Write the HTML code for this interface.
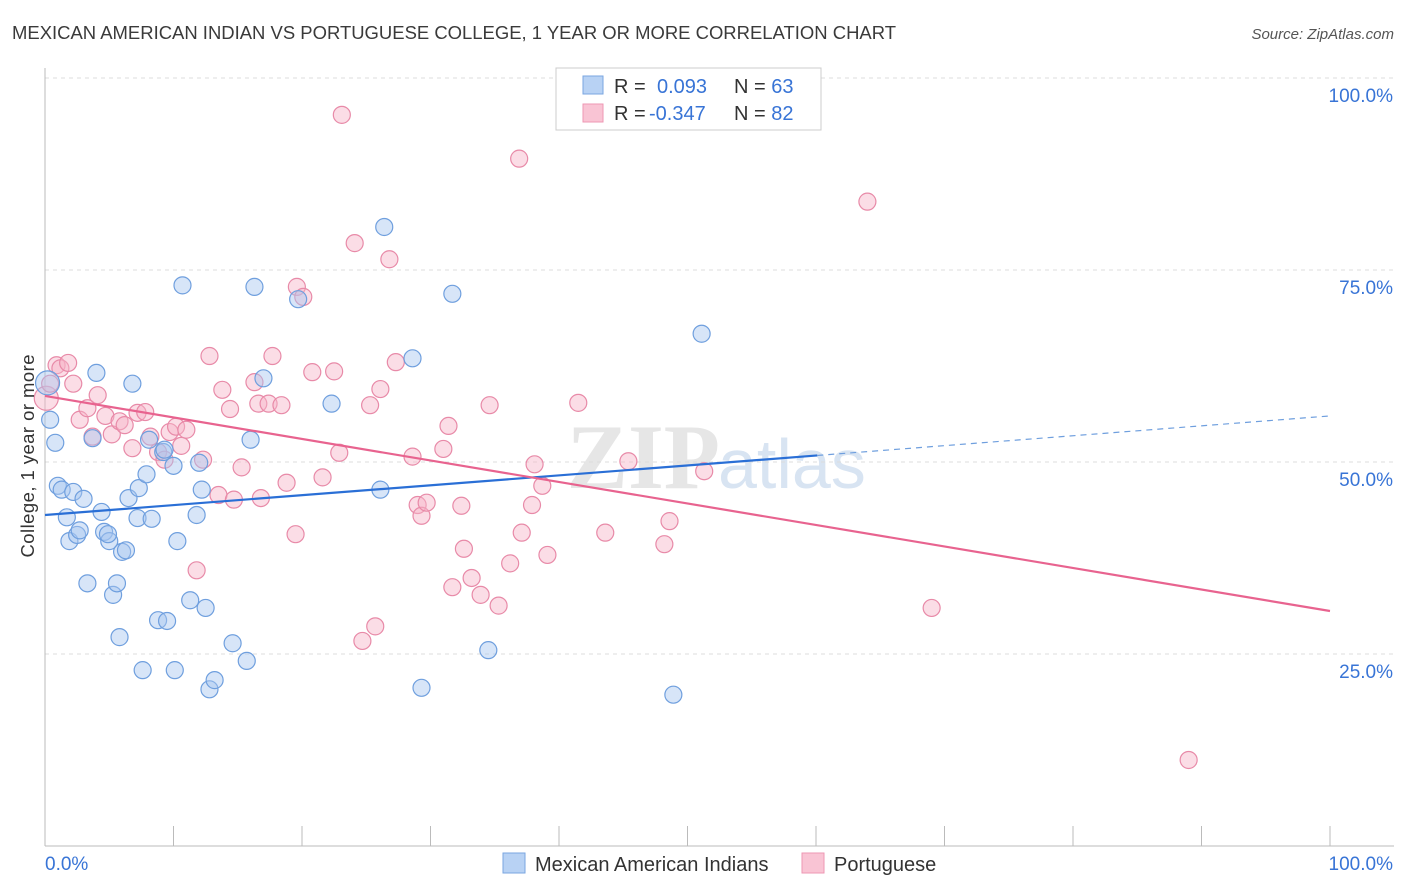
<!DOCTYPE html>
<html><head><meta charset="utf-8"><style>
body{margin:0;background:#fff;font-family:"Liberation Sans",sans-serif}
svg{display:block}
</style></head><body>
<svg id="c" width="1406" height="892" xmlns="http://www.w3.org/2000/svg">
<text x="12" y="39" font-size="18" fill="#3a3a3a" textLength="884" lengthAdjust="spacingAndGlyphs">MEXICAN AMERICAN INDIAN VS PORTUGUESE COLLEGE, 1 YEAR OR MORE CORRELATION CHART</text>
<text x="1394" y="39" font-size="15" fill="#555" font-style="italic" text-anchor="end">Source: ZipAtlas.com</text>
<text x="720" y="488" font-size="92" fill="#e6e6e6" font-weight="bold" text-anchor="end" font-family="Liberation Serif,serif">ZIP</text>
<text x="718" y="488" font-size="70" fill="#d8e4f2">atlas</text>
<g id="grid"></g>
<g id="marks"></g>
<text transform="translate(34,456) rotate(-90)" font-size="18.5" fill="#333" text-anchor="middle" textLength="203">College, 1 year or more</text>
<g>
<rect x="556" y="68" width="265" height="62" fill="#fff" stroke="#ccc"/>
<rect x="583" y="76" width="20" height="18" fill="#b8d2f4" stroke="#7aa6e0"/>
<rect x="583" y="104" width="20" height="18" fill="#f9c4d4" stroke="#ee97b3"/>
<text x="614" y="93" font-size="20" fill="#333">R = <tspan fill="#3874d6" x="657">0.093</tspan><tspan x="734" fill="#333">N = </tspan><tspan fill="#3874d6">63</tspan></text>
<text x="614" y="120" font-size="20" fill="#333">R = <tspan fill="#3874d6" x="649">-0.347</tspan><tspan x="734" fill="#333">N = </tspan><tspan fill="#3874d6">82</tspan></text>
</g>
<g>
<rect x="503" y="853" width="22" height="20" fill="#b8d2f4" stroke="#7aa6e0"/>
<text x="535" y="871" font-size="20" fill="#333">Mexican American Indians</text>
<rect x="802" y="853" width="22" height="20" fill="#f9c4d4" stroke="#ee97b3"/>
<text x="834" y="871" font-size="20" fill="#333">Portuguese</text>
</g>
</svg>
<script>
const blueX=[0.2,0.4,0.8,1.0,1.3,1.7,1.9,2.2,2.5,2.7,3.0,3.3,3.7,4.0,4.4,4.6,5.0,4.9,5.3,5.6,5.8,6.0,6.3,6.5,6.8,7.2,7.3,7.6,7.9,8.1,8.3,8.8,9.2,9.3,9.5,10.0,10.1,10.3,10.7,11.3,11.8,12.0,12.2,12.5,12.8,13.2,14.6,15.7,16.0,16.3,17.0,19.7,22.3,26.1,26.4,28.6,29.3,31.7,34.5,48.9,51.1];
const blueY=[60.3,55.5,52.5,46.9,46.4,42.8,39.7,46.1,40.5,41.1,45.2,34.2,53.1,61.6,43.5,40.9,39.7,40.6,32.7,34.2,27.2,38.3,38.5,45.3,60.2,42.7,46.6,22.9,48.4,52.9,42.6,29.4,51.3,51.6,29.3,49.5,22.9,39.7,73.0,32.0,43.1,49.9,46.4,31.0,20.4,21.6,26.4,24.1,52.9,72.8,60.9,71.2,57.6,46.4,80.6,63.5,20.6,71.9,25.5,19.7,66.7];
const pinkX=[0.1,0.4,0.9,1.2,1.8,2.2,2.7,3.3,3.7,4.1,4.7,5.2,5.8,6.2,6.8,7.2,7.8,8.2,8.8,9.3,9.7,10.2,10.6,11.0,11.8,12.3,12.8,13.5,13.8,14.4,14.7,15.3,16.3,16.6,16.8,17.4,17.7,18.4,18.8,19.5,19.6,20.1,20.8,21.6,22.5,22.9,23.1,24.1,24.7,25.3,25.7,26.1,26.8,27.3,28.6,29.0,29.3,29.7,31.0,31.4,31.7,32.4,32.6,33.2,33.9,34.6,35.3,36.2,36.9,37.1,37.9,38.1,38.7,39.1,41.5,43.6,45.4,48.2,48.6,51.3,64.0,69.0,89.0];
const pinkY=[58.3,60.2,62.6,62.2,62.9,60.2,55.5,57.0,53.3,58.7,56.0,53.6,55.3,54.8,51.8,56.4,56.5,53.3,51.3,50.3,53.9,54.6,52.1,54.2,35.9,50.3,63.8,45.7,59.4,56.9,45.1,49.3,60.4,57.6,45.3,57.6,63.8,57.4,47.3,40.6,72.8,71.5,61.7,48.0,61.8,51.2,95.2,78.5,26.7,57.4,28.6,59.5,76.4,63.0,50.7,44.4,43.0,44.7,51.7,54.7,33.7,44.3,38.7,34.9,32.7,57.4,31.3,36.8,89.5,40.8,44.4,49.7,46.9,37.9,57.7,40.8,50.1,39.3,42.3,48.8,83.9,31.0,11.2];
const blueTrend=[43.1,56.0]; const blueSolidEnd=60.1;
const pinkTrend=[58.6,30.6];
const yTicks=[25,50,75,100];
const yTickLabels=["25.0%","50.0%","75.0%","100.0%"];
const NS="http://www.w3.org/2000/svg";
const X=v=>45+v*12.85, Y=v=>846-v*7.68;
function mk(t,a,p){const e=document.createElementNS(NS,t);for(const k in a)e.setAttribute(k,a[k]);p.appendChild(e);return e;}
const grid=document.getElementById('grid'), marks=document.getElementById('marks');
yTicks.forEach((t,i)=>{
 const l=mk('line',{x1:45,x2:1394,y1:Y(t),y2:Y(t),stroke:'#dcdcdc','stroke-dasharray':'4,4'},grid);
 
 
 const tx=mk('text',{x:1393,y:Y(t)+24,'font-size':19,fill:'#3874d6','text-anchor':'end'},grid);
 tx.textContent=yTickLabels[i];
 
 
});
const ax=mk('line',{x1:45,x2:45,y1:68,y2:846,stroke:'#bbb'},grid);


const bx=mk('line',{x1:45,x2:1394,y1:846,y2:846,stroke:'#bbb'},grid);


for(let i=0;i<=10;i++){const t=mk('line',{x1:X(i*10),x2:X(i*10),y1:826,y2:846,stroke:'#bbb'},grid);
 
 }
[["0.0%",45,'start'],["100.0%",1393,'end']].forEach(d=>{const t=mk('text',{x:d[1],y:870,'font-size':19,fill:'#3874d6','text-anchor':d[2]},grid);t.textContent=d[0];
 
 });
function pts(xs,ys,fill,stroke,name){xs.forEach((x,i)=>{const c=mk('circle',{cx:X(x),cy:Y(ys[i]),r:i==0?12:8.5,fill:fill,'fill-opacity':0.45,stroke:stroke,'stroke-width':1.2},marks);
 
 });}
pts(pinkX,pinkY,'#f7b3c8','#e88aa8','portuguese-point');
pts(blueX,blueY,'#a6c6ef','#6f9fde','mexican-point');
const bl=mk('line',{x1:X(0),y1:Y(blueTrend[0]),x2:X(blueSolidEnd),y2:Y(blueTrend[0]+(blueTrend[1]-blueTrend[0])*blueSolidEnd/100),stroke:'#2a6fd6','stroke-width':2.2},marks);


const bd=mk('line',{x1:X(blueSolidEnd),y1:Y(blueTrend[0]+(blueTrend[1]-blueTrend[0])*blueSolidEnd/100),x2:X(100),y2:Y(blueTrend[1]),stroke:'#6f9fde','stroke-width':1.2,'stroke-dasharray':'6,5'},marks);


const pl=mk('line',{x1:X(0),y1:Y(pinkTrend[0]),x2:X(100),y2:Y(pinkTrend[1]),stroke:'#e8638f','stroke-width':2.2},marks);


</script>
</body></html>
